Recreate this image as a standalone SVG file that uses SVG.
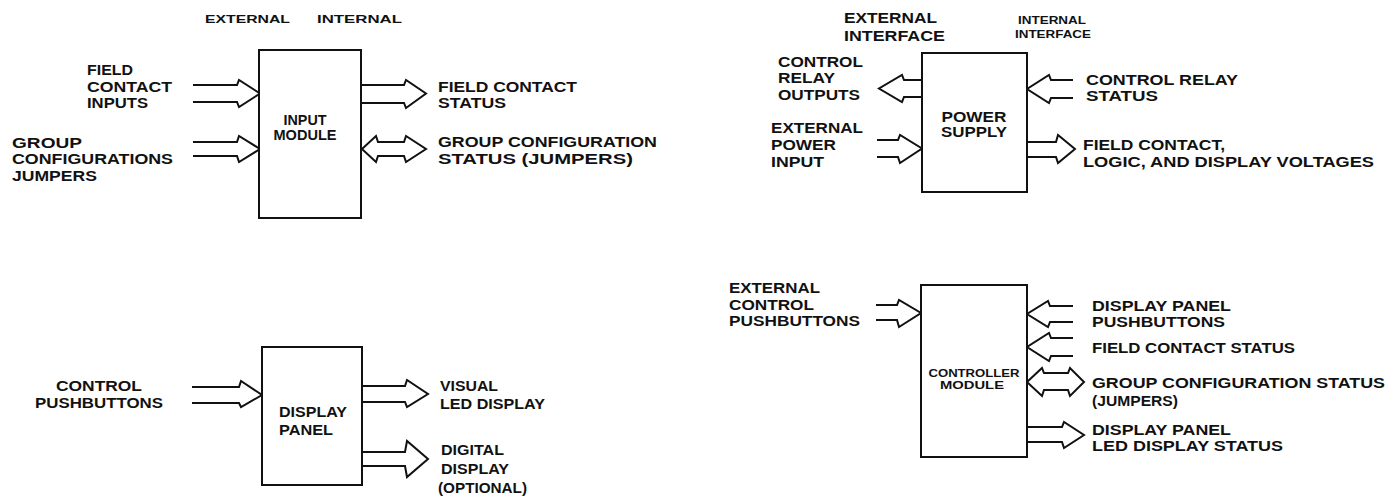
<svg xmlns="http://www.w3.org/2000/svg" width="1397" height="498" viewBox="0 0 1397 498">
<style>
text{font-family:"Liberation Sans",Arial,sans-serif;font-weight:bold;font-size:14.5px;fill:#111}
.sm{font-size:11.5px}
.mid{text-anchor:middle}
.box{fill:#fff;stroke:#111;stroke-width:2}
.arr{fill:none;stroke:#111;stroke-width:2;stroke-linejoin:miter}
</style>
<rect width="1397" height="498" fill="#fff"/>

<g id="connectors">
<!-- Input module -->
<path class="arr" d="M193 85 L237 85 L239 80 L260 93.5 L239 107 L237 102 L193 102"/>
<path class="arr" d="M193 142 L237 142 L239 136 L260 149 L239 162 L237 156 L193 156"/>
<path class="arr" d="M362 85 L404 85 L406 80 L426 93.5 L406 108 L404 103 L362 103"/>
<path class="arr" d="M378 142 L404 142 L406 136 L426 149 L406 162 L404 156 L378 156 L376 162 L362 149 L376 136 Z"/>
<!-- Power supply -->
<path class="arr" d="M922 80 L904 80 L902 75 L879 88.5 L902 102 L904 97 L922 97"/>
<path class="arr" d="M877 140 L898 140 L900 135 L922 148.5 L900 163 L898 157 L877 157"/>
<path class="arr" d="M1073 80 L1051 80 L1049 75 L1027 89 L1049 103 L1051 98 L1073 98"/>
<path class="arr" d="M1027 142 L1056 142 L1058 135 L1075 149 L1058 163 L1056 157 L1027 157"/>
<!-- Display panel -->
<path class="arr" d="M192 387 L239 387 L241 381 L262 395 L241 407 L239 403 L192 403"/>
<path class="arr" d="M362 386 L405 386 L407 380 L428 394 L407 407 L405 402 L362 402"/>
<path class="arr" d="M362 452 L405 452 L407 441 L428 459 L407 477 L405 466 L362 466"/>
<!-- Controller module -->
<path class="arr" d="M876 305 L897 305 L899 300 L921 313 L899 327 L897 320 L876 320"/>
<path class="arr" d="M1073 306 L1050 306 L1048 301 L1027 314 L1048 327 L1050 322 L1073 322"/>
<path class="arr" d="M1073 338 L1051 338 L1049 333 L1027 347 L1049 361 L1051 356 L1073 356"/>
<path class="arr" d="M1044 373 L1068 373 L1070 368 L1084 382 L1070 396 L1068 390 L1044 390 L1042 396 L1027 382 L1042 368 Z"/>
<path class="arr" d="M1027 427 L1062 427 L1064 422 L1084 435 L1064 448 L1062 442 L1027 442"/>
</g>

<g id="input-module">
<rect class="box" x="259" y="50" width="102" height="168"/>
<text class="mid" x="305" y="125" textLength="43" lengthAdjust="spacingAndGlyphs">INPUT</text>
<text class="mid" x="305" y="140" textLength="63" lengthAdjust="spacingAndGlyphs">MODULE</text>
</g>

<g id="power-supply">
<rect class="box" x="922" y="53" width="105" height="139"/>
<text class="mid" x="974" y="122" textLength="65" lengthAdjust="spacingAndGlyphs">POWER</text>
<text class="mid" x="974" y="137" textLength="66" lengthAdjust="spacingAndGlyphs">SUPPLY</text>
</g>

<g id="display-panel">
<rect class="box" x="262" y="347" width="100" height="138"/>
<text x="279" y="417" textLength="68" lengthAdjust="spacingAndGlyphs">DISPLAY</text>
<text x="279" y="435" textLength="54" lengthAdjust="spacingAndGlyphs">PANEL</text>
</g>

<g id="controller-module">
<rect class="box" x="921" y="285" width="106" height="172"/>
<text class="mid sm" x="974" y="377" textLength="91" lengthAdjust="spacingAndGlyphs">CONTROLLER</text>
<text class="mid sm" x="972" y="389" textLength="64" lengthAdjust="spacingAndGlyphs">MODULE</text>
</g>

<g id="labels">
<!-- Input module -->
<text class="sm" x="205" y="23" textLength="85" lengthAdjust="spacingAndGlyphs">EXTERNAL</text>
<text class="sm" x="317" y="23" textLength="85" lengthAdjust="spacingAndGlyphs">INTERNAL</text>
<text x="87" y="75" textLength="46" lengthAdjust="spacingAndGlyphs">FIELD</text>
<text x="87" y="92" textLength="85" lengthAdjust="spacingAndGlyphs">CONTACT</text>
<text x="87" y="108" textLength="61" lengthAdjust="spacingAndGlyphs">INPUTS</text>
<text x="12" y="148" textLength="70" lengthAdjust="spacingAndGlyphs">GROUP</text>
<text x="12" y="164" textLength="161" lengthAdjust="spacingAndGlyphs">CONFIGURATIONS</text>
<text x="12" y="181" textLength="85" lengthAdjust="spacingAndGlyphs">JUMPERS</text>
<text x="438" y="92" textLength="139" lengthAdjust="spacingAndGlyphs">FIELD CONTACT</text>
<text x="438" y="108" textLength="68" lengthAdjust="spacingAndGlyphs">STATUS</text>
<text x="438" y="147" textLength="219" lengthAdjust="spacingAndGlyphs">GROUP CONFIGURATION</text>
<text x="438" y="164" textLength="195" lengthAdjust="spacingAndGlyphs">STATUS (JUMPERS)</text>
<!-- Power supply -->
<text x="844" y="23" textLength="93" lengthAdjust="spacingAndGlyphs">EXTERNAL</text>
<text x="844" y="41" textLength="101" lengthAdjust="spacingAndGlyphs">INTERFACE</text>
<text class="sm" x="1018" y="24" textLength="68" lengthAdjust="spacingAndGlyphs">INTERNAL</text>
<text class="sm" x="1015" y="38" textLength="76" lengthAdjust="spacingAndGlyphs">INTERFACE</text>
<text x="778" y="67" textLength="85" lengthAdjust="spacingAndGlyphs">CONTROL</text>
<text x="778" y="83" textLength="57" lengthAdjust="spacingAndGlyphs">RELAY</text>
<text x="778" y="100" textLength="82" lengthAdjust="spacingAndGlyphs">OUTPUTS</text>
<text x="771" y="133" textLength="92" lengthAdjust="spacingAndGlyphs">EXTERNAL</text>
<text x="771" y="150" textLength="65" lengthAdjust="spacingAndGlyphs">POWER</text>
<text x="771" y="167" textLength="53" lengthAdjust="spacingAndGlyphs">INPUT</text>
<text x="1086" y="85" textLength="152" lengthAdjust="spacingAndGlyphs">CONTROL RELAY</text>
<text x="1086" y="101" textLength="72" lengthAdjust="spacingAndGlyphs">STATUS</text>
<text x="1083" y="150" textLength="142" lengthAdjust="spacingAndGlyphs">FIELD CONTACT,</text>
<text x="1083" y="167" textLength="291" lengthAdjust="spacingAndGlyphs">LOGIC, AND DISPLAY VOLTAGES</text>
<!-- Display panel -->
<text x="56" y="391" textLength="86" lengthAdjust="spacingAndGlyphs">CONTROL</text>
<text x="35" y="408" textLength="128" lengthAdjust="spacingAndGlyphs">PUSHBUTTONS</text>
<text x="440" y="391" textLength="58" lengthAdjust="spacingAndGlyphs">VISUAL</text>
<text x="440" y="409" textLength="105" lengthAdjust="spacingAndGlyphs">LED DISPLAY</text>
<text x="441" y="455" textLength="63" lengthAdjust="spacingAndGlyphs">DIGITAL</text>
<text x="441" y="474" textLength="68" lengthAdjust="spacingAndGlyphs">DISPLAY</text>
<text x="438" y="493" textLength="89" lengthAdjust="spacingAndGlyphs">(OPTIONAL)</text>
<!-- Controller module -->
<text x="729" y="293" textLength="91" lengthAdjust="spacingAndGlyphs">EXTERNAL</text>
<text x="729" y="310" textLength="85" lengthAdjust="spacingAndGlyphs">CONTROL</text>
<text x="729" y="326" textLength="131" lengthAdjust="spacingAndGlyphs">PUSHBUTTONS</text>
<text x="1092" y="311" textLength="139" lengthAdjust="spacingAndGlyphs">DISPLAY PANEL</text>
<text x="1092" y="327" textLength="133" lengthAdjust="spacingAndGlyphs">PUSHBUTTONS</text>
<text x="1092" y="353" textLength="203" lengthAdjust="spacingAndGlyphs">FIELD CONTACT STATUS</text>
<text x="1092" y="388" textLength="293" lengthAdjust="spacingAndGlyphs">GROUP CONFIGURATION STATUS</text>
<text x="1092" y="406" textLength="86" lengthAdjust="spacingAndGlyphs">(JUMPERS)</text>
<text x="1092" y="435" textLength="139" lengthAdjust="spacingAndGlyphs">DISPLAY PANEL</text>
<text x="1092" y="451" textLength="191" lengthAdjust="spacingAndGlyphs">LED DISPLAY STATUS</text>
</g>
</svg>
